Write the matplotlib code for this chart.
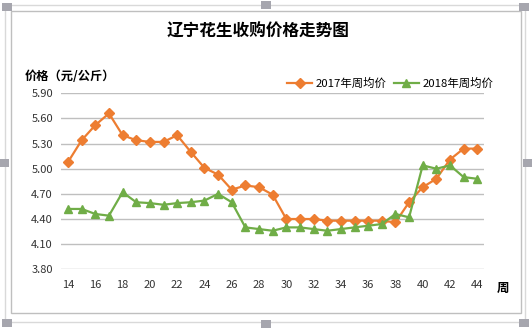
import matplotlib
matplotlib.use("Agg")
from matplotlib import pyplot as plt
from matplotlib.patches import Rectangle

plt.rcParams['font.family'] = ['Noto Sans CJK SC', 'DejaVu Sans']

weeks = list(range(14, 45))
price_2017 = [5.08, 5.34, 5.52, 5.66, 5.40, 5.34, 5.32, 5.32, 5.40, 5.20,
              5.01, 4.93, 4.75, 4.80, 4.78, 4.69, 4.40, 4.40, 4.40, 4.38,
              4.38, 4.38, 4.38, 4.38, 4.36, 4.60, 4.78, 4.88, 5.11, 5.24, 5.24]
price_2018 = [4.52, 4.52, 4.46, 4.44, 4.72, 4.60, 4.59, 4.57, 4.59, 4.60,
              4.62, 4.70, 4.60, 4.30, 4.28, 4.26, 4.30, 4.30, 4.28, 4.26,
              4.28, 4.30, 4.32, 4.34, 4.46, 4.42, 5.04, 5.00, 5.04, 4.90, 4.88]
y_ticks = [3.80, 4.10, 4.40, 4.70, 5.00, 5.30, 5.60, 5.90]
x_ticks = list(range(14, 45, 2))

W, H = 532, 329
ORANGE = '#ED7D31'
GREEN = '#70AD47'
GRID = '#BFBFBF'


def px_rect(x0, y0, x1, y1):
    """pixel box (top-left origin) -> figure fraction rect"""
    return [x0 / W, 1 - y1 / H, (x1 - x0) / W, (y1 - y0) / H]


fig = plt.figure(figsize=(W / 100, H / 100), dpi=100)

# excel-style frame and selection handles
for (x0, y0, x1, y1), col, lw in [((5, 5, 525, 322), '#D9D9D9', 1.0),
                                  ((11, 11, 521, 313), '#BFBFBF', 1.0)]:
    l, b, w, h = px_rect(x0, y0, x1, y1)
    fig.add_artist(Rectangle((l, b), w, h, transform=fig.transFigure,
                             fill=False, edgecolor=col, linewidth=lw))
for cx, cy in [(7, 7), (524, 7), (7, 323), (524, 323),
               (266, 5), (266, 324), (4, 163), (528, 163)]:
    l, b, w, h = px_rect(cx - 5, cy - 4, cx + 5, cy + 4)
    fig.add_artist(Rectangle((l, b), w, h, transform=fig.transFigure,
                             facecolor='#A6A6AE', edgecolor='none'))

ax = fig.add_axes(px_rect(61.2, 93.3, 484.1, 269.3))
ax.plot(weeks, price_2017, color=ORANGE, linewidth=1.6, marker='D',
        markersize=5.5, label='2017年周均价')
ax.plot(weeks, price_2018, color=GREEN, linewidth=1.6, marker='^',
        markersize=6, label='2018年周均价')

ax.set_xlim(13.5, 44.5)
ax.set_ylim(3.80, 5.90)
ax.set_yticks(y_ticks)
ax.set_yticklabels([f'{v:.2f}' for v in y_ticks])
ax.set_xticks(x_ticks)
ax.tick_params(axis='both', length=0, labelsize=8, colors='#333333')
ax.tick_params(axis='x', pad=8)
ax.tick_params(axis='y', pad=6)
ax.grid(axis='y', color=GRID, linewidth=1)
ax.set_axisbelow(True)
for s in ax.spines.values():
    s.set_visible(False)

fig.text(258 / W, 1 - 32 / H, '辽宁花生收购价格走势图', ha='center', va='center',
         fontsize=12, fontweight='bold')
fig.text(25 / W, 1 - 76 / H, '价格（元/公斤）', ha='left', va='center',
         fontsize=8.8, fontweight='bold')
fig.text(497 / W, 1 - 288 / H, '周', ha='left', va='center',
         fontsize=9, fontweight='bold')

fig.legend(loc='center left', bbox_to_anchor=(287 / W, 1 - 83 / H), ncol=2,
           frameon=False, fontsize=8.2, handlelength=2.2, handletextpad=0.35,
           columnspacing=0.6, borderpad=0, borderaxespad=0)

fig.savefig('out.png', dpi=100)
